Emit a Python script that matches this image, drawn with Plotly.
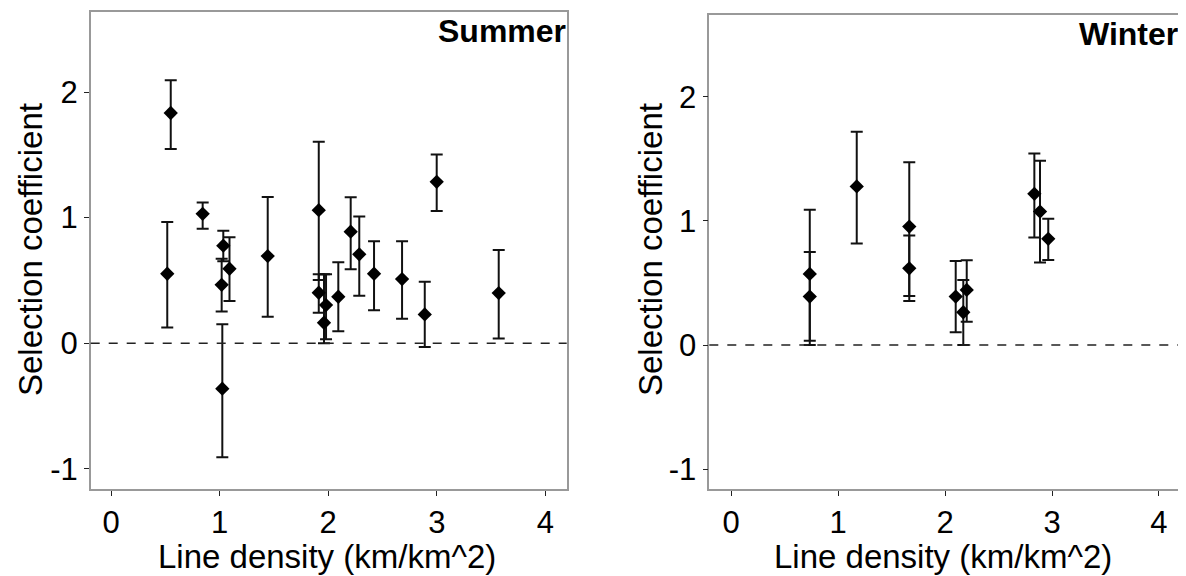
import plotly.graph_objects as go

# ---- Summer data ----
summer_x = [0.550, 0.518, 0.844, 1.034, 1.091, 1.019, 1.025, 1.443, 1.913, 1.913,
            1.980, 1.961, 2.093, 2.207, 2.286, 2.422, 2.680, 2.889, 2.999, 3.570]
summer_y = [1.833, 0.553, 1.030, 0.777, 0.593, 0.465, -0.362, 0.694, 1.059, 0.402,
            0.304, 0.163, 0.370, 0.888, 0.708, 0.553, 0.511, 0.229, 1.285, 0.399]
summer_hi = [2.093, 0.966, 1.120, 0.896, 0.843, 0.673, 0.152, 1.165, 1.604, 0.549,
             0.549, 0.549, 0.644, 1.163, 1.008, 0.812, 0.812, 0.489, 1.503, 0.742]
summer_lo = [1.546, 0.125, 0.912, 0.652, 0.337, 0.253, -0.907, 0.210, 0.503, 0.243,
             0.031, 0.000, 0.096, 0.588, 0.378, 0.263, 0.194, -0.030, 1.053, 0.037]

# ---- Winter data ----
winter_x = [0.736, 0.736, 1.175, 1.666, 1.666, 2.100, 2.171, 2.203, 2.835, 2.888, 2.965]
winter_y = [0.573, 0.390, 1.277, 0.954, 0.618, 0.390, 0.264, 0.444, 1.218, 1.075, 0.855]
winter_hi = [1.089, 0.750, 1.718, 1.473, 0.882, 0.677, 0.524, 0.683, 1.543, 1.484, 1.016]
winter_lo = [0.000, 0.035, 0.817, 0.395, 0.355, 0.102, 0.000, 0.188, 0.865, 0.664, 0.685]

x_ticks = [0, 1, 2, 3, 4]
y_ticks = [-1, 0, 1, 2]
y_ticktext = ["-1", "0", "1", "2"]
panel_titles = ["Summer", "Winter"]
x_title = "Line density (km/km^2)"
y_title = "Selection coefficient"

FONT = "Liberation Sans, Arial, sans-serif"

# page body has an 8px margin; figure is sized to fit inside the window
OFF = 8
W, H = 1186 - OFF, 576 - OFF


def px(v):
    return (v - OFF) / W


def py(v):
    return 1 - (v - OFF) / H


fig = go.Figure()


def add_panel(xs, ys, hi, lo, xa, ya):
    fig.add_trace(go.Scatter(
        x=xs, y=ys, mode="markers",
        xaxis=xa, yaxis=ya,
        marker=dict(symbol="diamond", size=11, color="black"),
        error_y=dict(type="data", symmetric=False,
                     array=[h - v for h, v in zip(hi, ys)],
                     arrayminus=[v - l for v, l in zip(ys, lo)],
                     color="#111111", thickness=2, width=6),
        showlegend=False, hoverinfo="x+y",
    ))


add_panel(summer_x, summer_y, summer_hi, summer_lo, "x", "y")
add_panel(winter_x, winter_y, winter_hi, winter_lo, "x2", "y2")

axis_common = dict(
    showgrid=False, zeroline=False, showline=True, mirror=True,
    linecolor="#999999", linewidth=1.5,
    ticks="outside", ticklen=5, tickwidth=1.2, tickcolor="#222222",
    tickfont=dict(family=FONT, size=31, color="black"),
)

fig.update_layout(
    width=W, height=H,
    margin=dict(l=0, r=0, t=0, b=0),
    paper_bgcolor="white", plot_bgcolor="white",
    xaxis=dict(domain=[px(90.7), px(566.7)], range=[-0.187, 4.196],
               tickvals=x_ticks, anchor="y", **axis_common),
    yaxis=dict(domain=[py(489.3), py(12)], range=[-1.163, 2.637],
               tickvals=y_ticks, ticktext=y_ticktext, anchor="x", **axis_common),
    xaxis2=dict(domain=[px(709.3), px(1179)], range=[-0.203, 4.187],
                tickvals=x_ticks, anchor="y2", **axis_common),
    yaxis2=dict(domain=[py(489.3), py(15)], range=[-1.162, 2.658],
                tickvals=y_ticks, ticktext=y_ticktext, anchor="x2", **axis_common),
    font=dict(family=FONT, color="black"),
)

# dashed zero lines
for xr, yr in [("x domain", "y"), ("x2 domain", "y2")]:
    fig.add_shape(type="line", xref=xr, yref=yr, x0=0, x1=1, y0=0, y1=0,
                  line=dict(color="#222222", width=1.5, dash="dash"))

# panel titles
for i, (xr, yr) in enumerate([("x domain", "y domain"), ("x2 domain", "y2 domain")]):
    fig.add_annotation(text="<b>" + panel_titles[i] + "</b>", xref=xr, yref=yr,
                       x=1.0, y=1.0, xanchor="right", yanchor="top",
                       showarrow=False, borderpad=0,
                       font=dict(family=FONT, size=32, color="black"))

# axis titles
for cx in [327, 943]:
    fig.add_annotation(text=x_title, xref="paper", yref="paper",
                       x=px(cx), y=py(556), xanchor="center", yanchor="middle",
                       showarrow=False,
                       font=dict(family=FONT, size=33, color="black"))
for cx in [30, 650]:
    fig.add_annotation(text=y_title, xref="paper", yref="paper",
                       x=px(cx), y=py(250), xanchor="center", yanchor="middle",
                       textangle=-90, showarrow=False,
                       font=dict(family=FONT, size=33, color="black"))

fig.write_html("out.html")
